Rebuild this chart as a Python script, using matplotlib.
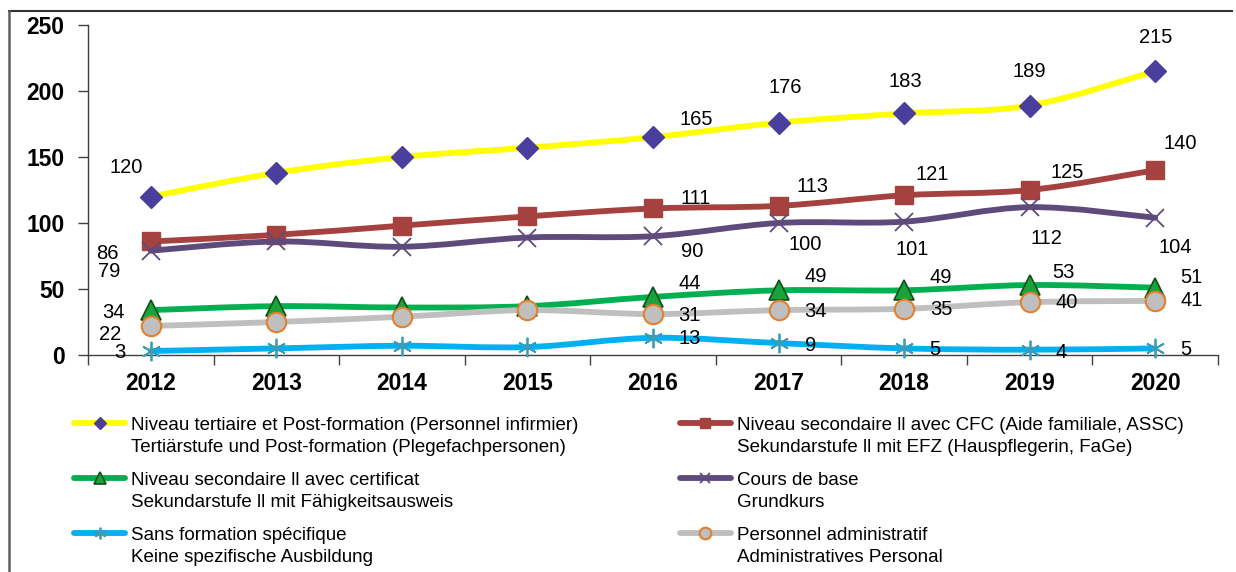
import matplotlib.pyplot as plt
from matplotlib.lines import Line2D
from matplotlib.path import Path
from matplotlib.patches import PathPatch

plt.rcParams['font.family'] = ['Liberation Sans', 'DejaVu Sans']

# données
years = ['2012', '2013', '2014', '2015', '2016', '2017', '2018', '2019', '2020']
tertiaire = [120, 138, 150, 157, 165, 176, 183, 189, 215]
cfc = [86, 91, 98, 105, 111, 113, 121, 125, 140]
certificat = [34, 37, 36, 37, 44, 49, 49, 53, 51]
cours_base = [79, 86, 82, 89, 90, 100, 101, 112, 104]
sans_formation = [3, 5, 7, 6, 13, 9, 5, 4, 5]
administratif = [22, 25, 29, 34, 31, 34, 35, 40, 41]
labelled = [0, 4, 5, 6, 7, 8]  # années avec étiquette

names = [
    ("Niveau tertiaire et Post-formation (Personnel infirmier)",
     "Tertiärstufe und Post-formation (Plegefachpersonen)"),
    ("Niveau secondaire ll avec CFC (Aide familiale, ASSC)",
     "Sekundarstufe ll mit EFZ (Hauspflegerin, FaGe)"),
    ("Niveau secondaire ll avec certificat",
     "Sekundarstufe ll mit Fähigkeitsausweis"),
    ("Cours de base", "Grundkurs"),
    ("Sans formation spécifique", "Keine spezifische Ausbildung"),
    ("Personnel administratif", "Administratives Personal"),
]

# style: couleur ligne, marqueur, taille, remplissage, bord
styles = [
    dict(color='#FFFF00', marker='D', ms=11, mfc='#4B3F9E', mec='#4B3F9E', mew=1),
    dict(color='#A5413E', marker='s', ms=13, mfc='#A5413E', mec='#A5413E', mew=1),
    dict(color='#00B050', marker='^', ms=14, mfc='#1AA33A', mec='#0E4F1A', mew=1.2),
    dict(color='#5F4A7C', marker='x', ms=13, mfc='#5F4A7C', mec='#5F4A7C', mew=1.3),
    dict(color='#00B0F0', marker=(6, 2, 0), ms=14, mfc='#3A9DB8', mec='#3A9DB8', mew=1.3),
    dict(color='#BFBFBF', marker='o', ms=14, mfc='#BFBFBF', mec='#E3802E', mew=1.5),
]

# décalages des étiquettes (pixels)
offsets = [
    [(-25, 29), (43, 18), (7, 35), (1, 32), (0, 34), (0, 34)],
    [(-43, -12), (43, 10), (34, 19), (28, 21), (38, 17), (25, 27)],
    [(-37, -2), (37, 13), (37, 14), (37, 13), (34, 13), (36, 10)],
    [(-42, -21), (39, -15), (27, -22), (8, -28), (17, -31), (20, -30)],
    [(-31, -1), (37, -1), (32, -2), (31, -1), (31, -3), (31, -1)],
    [(-41, -9), (36, -1), (37, -1), (37, -1), (37, 0), (36, 0)],
]

series = [tertiaire, cfc, certificat, cours_base, sans_formation, administratif]

W, H = 1236, 572


def smooth_path(xs, ys):
    # courbe lissée façon Excel (Catmull-Rom -> Bézier)
    n = len(xs)
    verts = [(xs[0], ys[0])]
    codes = [Path.MOVETO]
    for i in range(n - 1):
        a = max(i - 1, 0)
        b = min(i + 2, n - 1)
        c1 = (xs[i] + (xs[i + 1] - xs[a]) / 6, ys[i] + (ys[i + 1] - ys[a]) / 6)
        c2 = (xs[i + 1] - (xs[b] - xs[i]) / 6, ys[i + 1] - (ys[b] - ys[i]) / 6)
        verts += [c1, c2, (xs[i + 1], ys[i + 1])]
        codes += [Path.CURVE4] * 3
    return Path(verts, codes)


fig = plt.figure(figsize=(W / 100, H / 100), dpi=100)
ax = fig.add_axes([88 / W, 1 - 355 / H, 1130 / W, 330 / H])

x = list(range(len(years)))
for k, (vals, st, offs) in enumerate(zip(series, styles, offsets)):
    ax.add_patch(PathPatch(smooth_path(x, vals), fill=False, edgecolor=st['color'],
                           lw=4.2, capstyle='round', joinstyle='round',
                           zorder=2 + 2 * k, clip_on=False))
    mk = {kk: v for kk, v in st.items() if kk != 'color'}
    ax.plot(x, vals, ls='none', clip_on=False, zorder=3 + 2 * k, **mk)
    for i, (dx, dy) in zip(labelled, offs):
        ax.annotate(str(vals[i]), (i, vals[i]), xytext=(dx, dy),
                    textcoords='offset pixels', ha='center', va='center',
                    fontsize=14.5, color='black', zorder=20)

ax.set_xlim(-0.5, len(years) - 0.5)
ax.set_ylim(0, 250)
ax.set_yticks(range(0, 251, 50))
ax.set_xticks(x)
ax.set_xticklabels(years)
ax.set_xticks([i - 0.5 for i in range(len(years) + 1)], minor=True)
ax.tick_params(axis='x', which='major', length=0, pad=12, labelsize=16.5)
ax.tick_params(axis='x', which='minor', length=7, width=1, color='#404040')
ax.tick_params(axis='y', length=7, width=1, color='#404040', pad=10, labelsize=16.5)
for lab in ax.get_xticklabels() + ax.get_yticklabels():
    lab.set_fontweight('bold')
for s in ['top', 'right']:
    ax.spines[s].set_visible(False)
for s in ['left', 'bottom']:
    ax.spines[s].set_color('#404040')
    ax.spines[s].set_linewidth(1)

# légende (2 colonnes, symbole aligné sur la 1re ligne)
for k, (st, (l1, l2)) in enumerate(zip(styles, names)):
    col, row = k % 2, k // 2
    x0 = [74, 680][col]
    yc = 423 + 55 * row
    mk = dict(st)
    mk['ms'] = st['ms'] * 0.6
    fig.add_artist(Line2D([x0 / W, (x0 + 51) / W], [1 - yc / H] * 2, lw=4.2,
                          solid_capstyle='round', markevery=[], **mk))
    fig.add_artist(Line2D([(x0 + 25.5) / W], [1 - yc / H], ls='none',
                          **{kk: v for kk, v in mk.items() if kk != 'color'}))
    for j, line in enumerate([l1, l2]):
        fig.text((x0 + 57) / W, 1 - (yc + 22.5 * j + 6.7) / H, line,
                 fontsize=13.5, ha='left', va='baseline')

# cadre
fig.add_artist(Line2D([9 / W, 1232 / W], [1 - 11 / H] * 2, color='#303030', lw=1.5))
fig.add_artist(Line2D([9 / W] * 2, [1 - 11 / H, 0], color='#606060', lw=1.8))

fig.savefig('out.png', dpi=100)
